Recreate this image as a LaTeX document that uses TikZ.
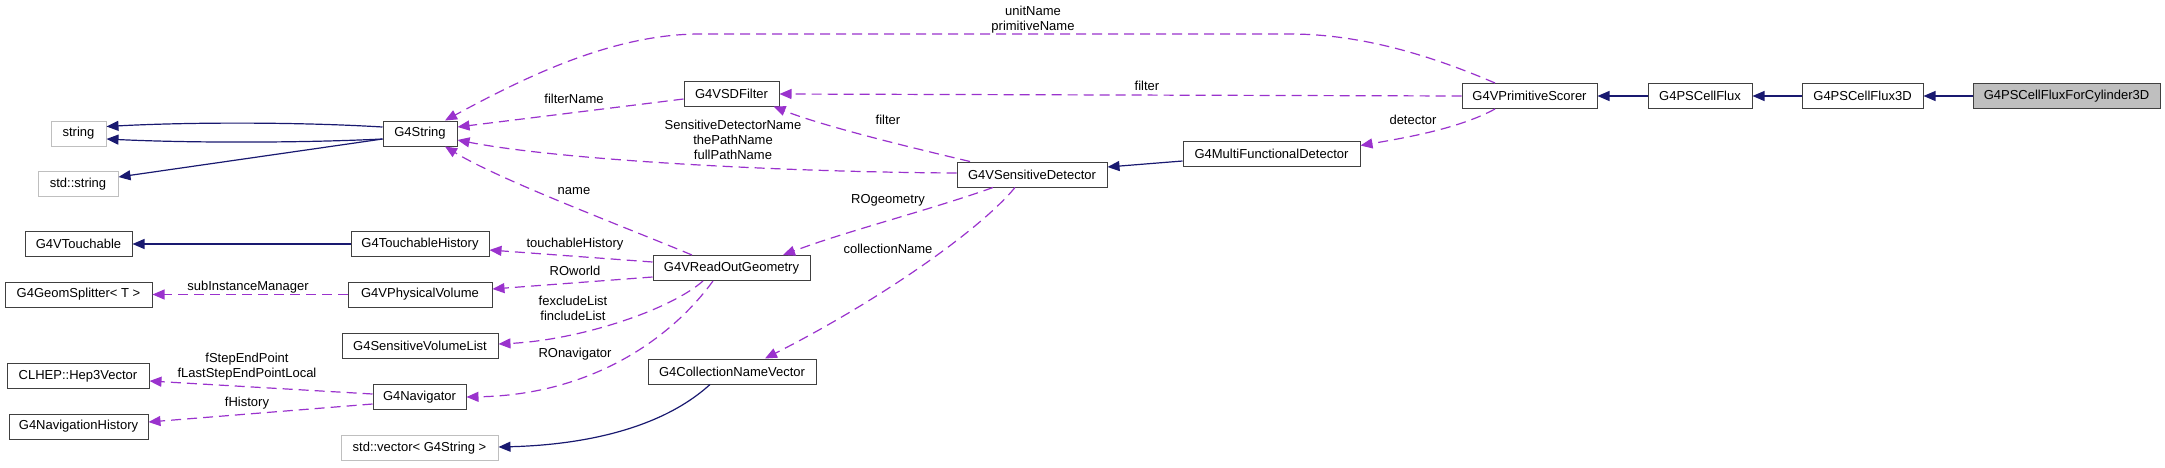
\documentclass[tikz,border=0pt]{standalone}
\usepackage{fontspec}
\setmainfont{Liberation Sans}
\usetikzlibrary{arrows.meta,calc}
\definecolor{usec}{HTML}{9A32CD}
\definecolor{inhc}{HTML}{191970}
\begin{document}
\begin{tikzpicture}[x=1pt,y=-1pt,
 cls/.style={draw=black!75, line width=1pt, fill=white, minimum height=25pt, inner sep=0pt, font=\fontsize{13}{15}\selectfont},
 ext/.style={cls, draw=black!25},
 mainc/.style={cls, fill=black!25},
 inh/.style={draw=inhc, line width=1.2pt, -{Triangle[length=12pt,width=10pt]}},
 use/.style={draw=usec, line width=1.2pt, dash pattern=on 10pt off 6pt, -{Triangle[length=12pt,width=10pt]}},
 lbl/.style={font=\fontsize{13}{15}\selectfont, inner sep=0pt, align=center}
]
\useasboundingbox (0,0) rectangle (2165,467);

% nodes
\node[ext, minimum width=55pt] (str) at (78.5,133.5) {string};
\node[ext, minimum width=80pt] (stdstr) at (78,184) {std::string};
\node[cls, minimum width=74pt] (g4s) at (420,133.5) {G4String};
\node[cls, minimum width=107pt] (vtouch) at (78.5,244) {G4VTouchable};
\node[cls, minimum width=147pt] (split) at (78.5,294.5) {G4GeomSplitter< T >};
\node[cls, minimum width=142pt] (clhep) at (78,376) {CLHEP::Hep3Vector};
\node[cls, minimum width=139pt] (navh) at (78.5,426.5) {G4NavigationHistory};
\node[cls, minimum width=138pt] (thist) at (420,244) {G4TouchableHistory};
\node[cls, minimum width=144pt] (vphys) at (420,294.5) {G4VPhysicalVolume};
\node[cls, minimum width=156pt] (svl) at (420,346) {G4SensitiveVolumeList};
\node[cls, minimum width=93pt] (nav) at (419.5,397) {G4Navigator};
\node[ext, minimum width=157pt] (stdvec) at (419.5,448) {std::vector< G4String >};
\node[cls, minimum width=95pt] (sdf) at (731.5,93.5) {G4VSDFilter};
\node[cls, minimum width=157pt] (rog) at (731.5,268) {G4VReadOutGeometry};
\node[cls, minimum width=168pt] (cnv) at (732,371.5) {G4CollectionNameVector};
\node[cls, minimum width=150pt] (vsd) at (1032,174.5) {G4VSensitiveDetector};
\node[cls, minimum width=177pt] (mfd) at (1271.5,153.5) {G4MultiFunctionalDetector};
\node[cls, minimum width=135pt] (vps) at (1529.5,96) {G4VPrimitiveScorer};
\node[cls, minimum width=104pt] (cf) at (1700,96) {G4PSCellFlux};
\node[cls, minimum width=121pt] (cf3) at (1862.5,96) {G4PSCellFlux3D};
\node[mainc, minimum width=187pt] (cyl) at (2066.5,96) {G4PSCellFluxForCylinder3D};

% inheritance
\draw[inh] (cyl.west) -- (cf3.east);
\draw[inh] (cf3.west) -- (cf.east);
\draw[inh] (cf.west) -- (vps.east);
\draw[inh] ($(mfd.west)+(0,7.5)$) -- ($(vsd.east)+(0,-7.5)$);
\draw[inh] (thist.west) -- (vtouch.east);
\draw[inh] ($(g4s.west)+(0,-6.5)$) .. controls (300,122) and (190,122) .. ($(str.east)+(0,-7)$);
\draw[inh] ($(g4s.west)+(0,5.5)$) .. controls (300,143) and (190,143) .. ($(str.east)+(0,5.5)$);
\draw[inh] ($(g4s.west)+(0,5.5)$) -- ($(stdstr.east)+(0,-7)$);
\draw[inh] ($(cnv.south)+(-22,0)$) .. controls (660,430) and (580,445) .. ($(stdvec.east)+(0,-1)$);

% usage
\draw[use] (vps.west) -- ($(sdf.east)+(0,0.5)$);
\draw[use] ($(vps.north)+(-34.5,0)$) .. controls (1430,55) and (1360,34) .. (1290,34) -- (700,34) .. controls (610,34) and (520,80) .. ($(g4s.north)+(25,0)$);
\draw[use] ($(vps.south)+(-34.5,0)$) .. controls (1460,128) and (1410,137) .. ($(mfd.east)+(0,-8)$);
\draw[use] ($(vsd.north)+(-62,0)$) .. controls (900,145) and (820,125) .. ($(sdf.south)+(42,0)$);
\draw[use] ($(vsd.west)+(0,-1.5)$) .. controls (780,172) and (560,160) .. ($(g4s.east)+(0,6.5)$);
\draw[use] ($(sdf.west)+(0,5.5)$) -- ($(g4s.east)+(0,-6.5)$);
\draw[use] ($(rog.north)+(-39.5,0)$) .. controls (620,225) and (500,180) .. ($(g4s.south)+(25,0)$);
\draw[use] ($(rog.west)+(0,-6)$) -- ($(thist.east)+(0,6)$);
\draw[use] ($(rog.west)+(0,9)$) -- ($(vphys.east)+(0,-5.5)$);
\draw[use] ($(rog.south)+(-28.5,0)$) .. controls (670,310) and (580,340) .. ($(svl.east)+(0,-2)$);
\draw[use] ($(rog.south)+(-18.5,0)$) .. controls (670,340) and (590,395) .. (nav.east);
\draw[use] ($(vsd.south)+(-39,0)$) .. controls (930,210) and (850,230) .. ($(rog.north)+(51.5,0)$);
\draw[use] ($(vsd.south)+(-17,0)$) .. controls (980,230) and (880,300) .. ($(cnv.north)+(33,0)$);
\draw[use] (vphys.west) -- (split.east);
\draw[use] ($(nav.west)+(0,-3)$) -- ($(clhep.east)+(0,5)$);
\draw[use] ($(nav.west)+(0,7)$) -- ($(navh.east)+(0,-4.5)$);

% labels
\node[lbl] (l1) at (1033,19.5) {unitName\\primitiveName};
\node[lbl] (l2) at (1147,86) {filter};
\node[lbl] (l3) at (1413,120) {detector};
\node[lbl] (l4) at (888,120) {filter};
\node[lbl] (l5) at (733,139.5) {SensitiveDetectorName\\thePathName\\fullPathName};
\node[lbl] (l6) at (574,99) {filterName};
\node[lbl] (l7) at (574,191) {name};
\node[lbl] (l8) at (575,244) {touchableHistory};
\node[lbl] (l9) at (575,271) {ROworld};
\node[lbl] (l10) at (573,308) {fexcludeList\\fincludeList};
\node[lbl] (l11) at (575,354) {ROnavigator};
\node[lbl] (l12) at (888,200) {ROgeometry};
\node[lbl] (l13) at (888,249) {collectionName};
\node[lbl] (l14) at (248,287) {subInstanceManager};
\node[lbl] (l15) at (247,367) {fStepEndPoint\\fLastStepEndPointLocal};
\node[lbl] (l16) at (247,403) {fHistory};
\end{tikzpicture}
\end{document}
